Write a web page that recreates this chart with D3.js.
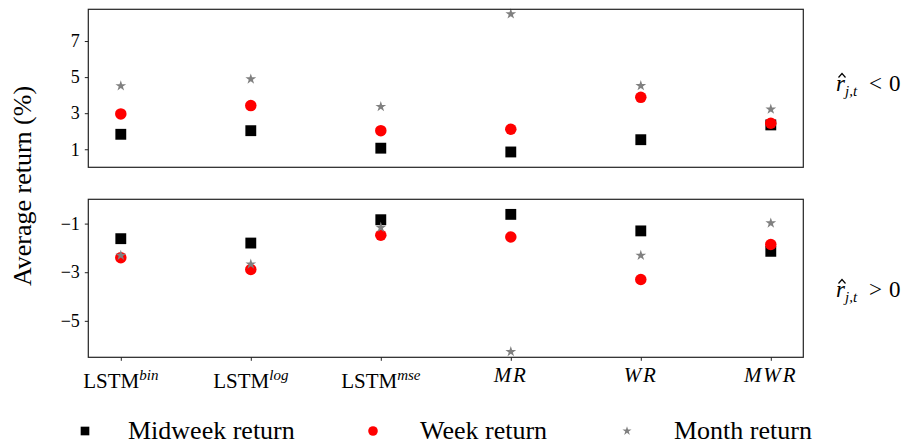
<!DOCTYPE html>
<html><head><meta charset="utf-8">
<script src="https://cdn.jsdelivr.net/npm/d3@7"></script>
<style>
body{margin:0;background:#fff;}
</style></head>
<body><svg id="c" width="903" height="447"></svg>
<script>
const categories = ["bin","log","mse","MR","WR","MWR"];
const seriesNames = ["Midweek return","Week return","Month return"];
// top panel: r̂ < 0
const topMidweek = [1.83, 2.03, 1.06, 0.85, 1.53, 2.35];
const topWeek    = [2.96, 3.42, 2.03, 2.11, 3.88, 2.44];
const topMonth   = [4.51, 4.89, 3.36, 8.50, 4.52, 3.22];
// bottom panel: r̂ > 0
const botMidweek = [-1.62, -1.80, -0.84, -0.62, -1.30, -2.14];
const botWeek    = [-2.40, -2.89, -1.48, -1.55, -3.30, -1.86];
const botMonth   = [-2.31, -2.67, -1.16, -6.27, -2.31, -0.98];
const topTicks = [1,3,5,7];
const botTicks = [-5,-3,-1];

const FONT = '"Liberation Serif", "DejaVu Serif", serif';
const svg = d3.select("#c");
const left = 88.3, right = 803.3;
const x = d3.scaleLinear().domain([-0.25, 5.25]).range([left, right]);

const colors = ["#000000", "#ff0000", "#808080"];
const symbols = [d3.symbolSquare, d3.symbolCircle, d3.symbolStar];
const sizes = [118, 104, 36];

function T(sel) { return sel.style("font-family", FONT).style("fill", "#000"); }

function panel(y0, y1, domain, ticks, data, showX) {
  const y = d3.scaleLinear().domain(domain).range([y1, y0]);
  const g = svg.append("g");
  const ax = g.append("g").attr("transform", `translate(${left},0)`)
    .call(d3.axisLeft(y).tickValues(ticks).tickSize(3.5).tickPadding(5).tickFormat(d3.format("d")));
  ax.attr("font-family", null).attr("font-size", null);
  ax.select(".domain").remove();
  ax.selectAll("line").attr("stroke","#222").attr("stroke-width",1);
  T(ax.selectAll("text")).style("font-size","18px");
  if (showX) {
    const axb = g.append("g").attr("transform", `translate(0,${y1})`)
      .call(d3.axisBottom(x).tickValues(d3.range(categories.length)).tickSize(3.5).tickFormat(""));
    axb.select(".domain").remove();
    axb.selectAll("line").attr("stroke","#222").attr("stroke-width",1);
  }
  data.forEach((vals, si) => {
    g.append("g").selectAll("path").data(vals).join("path")
      .attr("transform", (d,i) => `translate(${x(i)},${y(d)})`)
      .attr("d", d3.symbol(symbols[si], sizes[si]))
      .attr("fill", colors[si]);
  });
  g.append("rect").attr("x", left).attr("y", y0).attr("width", right-left).attr("height", y1-y0)
    .attr("fill","none").attr("stroke","#222").attr("stroke-width",1.2);
  return y;
}

panel(9.3, 167.3, [0.0, 8.76], topTicks, [topMidweek, topWeek, topMonth], false);
panel(199.3, 357.3, [-6.5, 0.0], botTicks, [botMidweek, botWeek, botMonth], true);

// x tick labels
categories.forEach((c, i) => {
  if (i < 3) {
    const t = T(svg.append("text")).attr("x", x(i)).attr("y", 388).attr("text-anchor","middle").style("font-size","21px");
    t.append("tspan").text("LSTM");
    t.append("tspan").attr("dy", -8).style("font-size","15px").style("font-style","italic").text(c);
  } else {
    T(svg.append("text")).attr("x", x(i)).attr("y", 382).attr("text-anchor","middle")
      .style("font-size","21px").style("font-style","italic").attr("letter-spacing","2px").text(c);
  }
});

// y label
T(svg.append("text")).attr("transform","translate(31,186) rotate(-90)").attr("text-anchor","middle")
  .style("font-size","26px").text("Average return (%)");

// right labels
function rlabel(yb, op) {
  const g = svg.append("g").attr("transform", `translate(836,${yb})`);
  const t = T(g.append("text")).attr("y",0).style("font-size","23px");
  t.append("tspan").attr("x",0).style("font-style","italic").text("r");
  t.append("tspan").attr("x",9).attr("dy",5).style("font-size","15px").style("font-style","italic").text("j,t");
  t.append("tspan").attr("x",33).attr("dy",-5).text(op);
  t.append("tspan").attr("x",53).text("0");
  // hat drawn as a path over the r
  g.append("path").attr("d","M2.5,-13.5 L6,-17.5 L9.5,-13.5").attr("fill","none").attr("stroke","#000").attr("stroke-width",1.2);
}
rlabel(91, "<");
rlabel(297, ">");

// legend
const legX = [85, 373, 627], legT = [128, 420, 674];
const legSizes = [75, 72, 26];
seriesNames.forEach((n, i) => {
  svg.append("path").attr("transform", `translate(${legX[i]},431)`)
    .attr("d", d3.symbol(symbols[i], legSizes[i])).attr("fill", colors[i]);
  T(svg.append("text")).attr("x", legT[i]).attr("y", 439).style("font-size","26px").text(n);
});
</script></body></html>
